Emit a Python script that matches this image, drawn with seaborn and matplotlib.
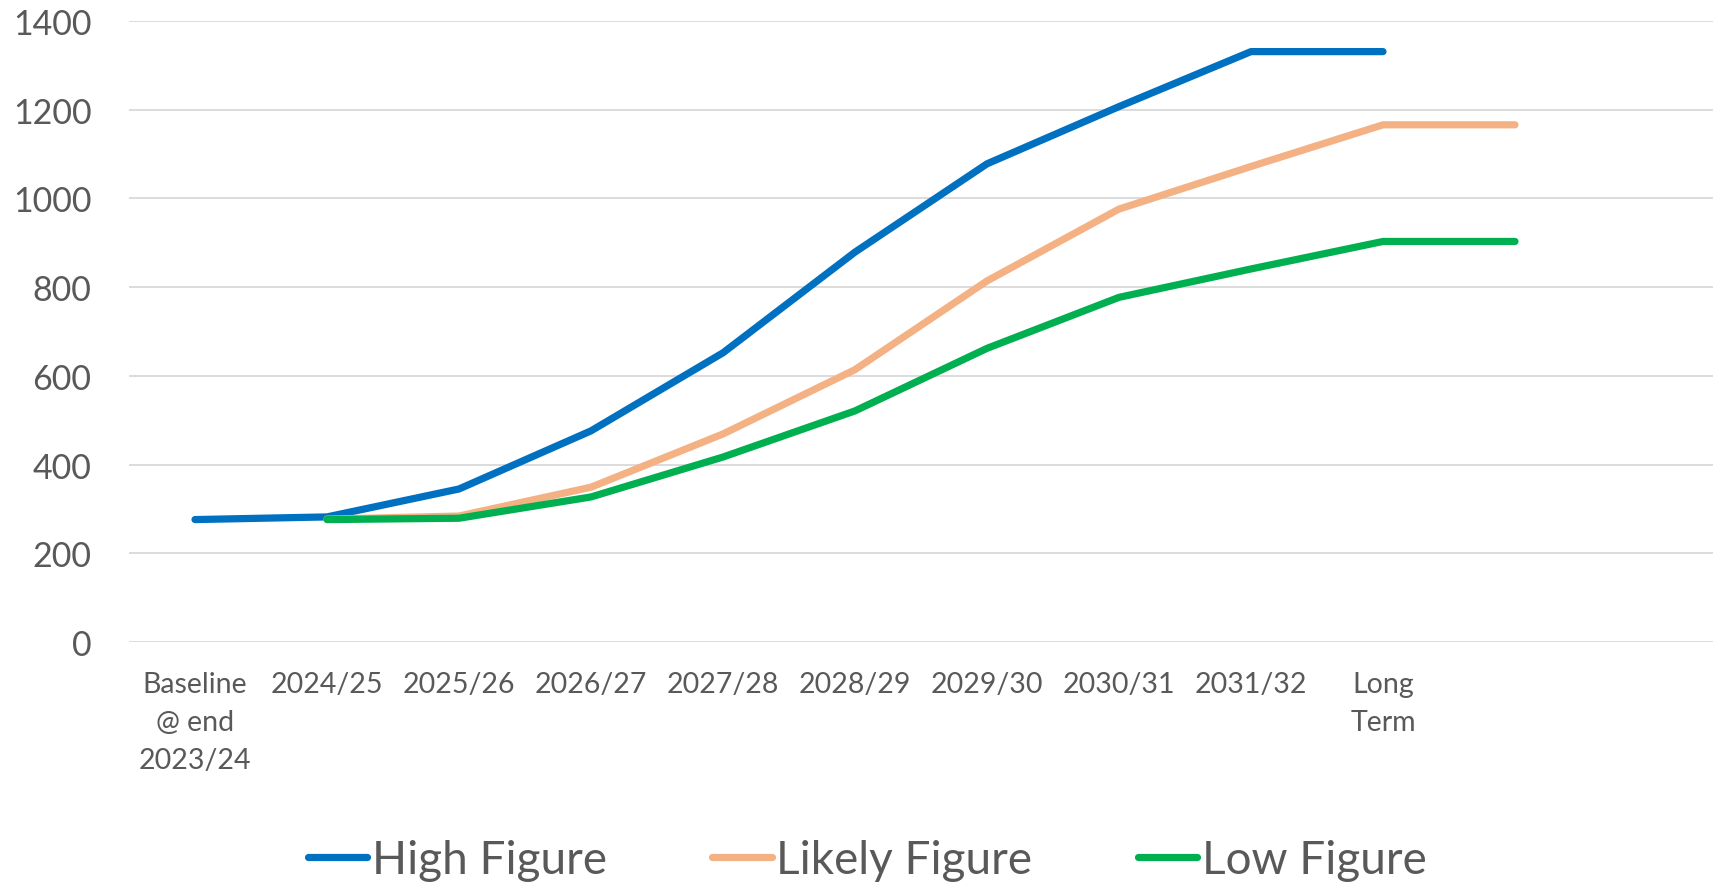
import numpy as np
import pandas as pd
import matplotlib
matplotlib.use("Agg")
import matplotlib.pyplot as plt
import seaborn as sns

categories = ["Baseline\n@ end\n2023/24", "2024/25", "2025/26", "2026/27", "2027/28",
              "2028/29", "2029/30", "2030/31", "2031/32", "Long\nTerm", "", ""]
high = [276, 282, 345, 476, 652, 879, 1078, 1207, 1331, 1331, np.nan, np.nan]
likely = [np.nan, 277, 284, 349, 469, 614, 814, 976, 1072, 1166, 1166, np.nan]
low = [np.nan, 276, 279, 327, 417, 521, 662, 777, 841, 903, 903, np.nan]
series_names = ["High Figure", "Likely Figure", "Low Figure"]
colors = ["#0070C0", "#F4B183", "#00B050"]
yticks = [0, 200, 400, 600, 800, 1000, 1200, 1400]

rows = []
for name, vals in zip(series_names, [high, likely, low]):
    for i, v in enumerate(vals):
        if not np.isnan(v):
            rows.append({"x": i, "value": v, "series": name})
df = pd.DataFrame(rows)

sns.set_theme(style="white")
plt.rcParams['font.family'] = ['Lato', 'DejaVu Sans']
text_color = "#595959"

fig = plt.figure(figsize=(17.17, 8.87), dpi=100)
ax = fig.add_axes([129/1717, 1 - 643/887, (1713 - 129)/1717, (643 - 22)/887])

sns.lineplot(data=df, x="x", y="value", hue="series", hue_order=series_names,
             palette=colors, linewidth=5.2, ax=ax, legend=True,
             solid_capstyle="round", estimator=None, sort=False)

ax.set_xlim(-0.5, len(categories) - 0.5)
ax.set_ylim(0, 1400)
ax.set_yticks(yticks)
ax.set_yticklabels([str(t) for t in yticks], fontsize=24.5, color=text_color)
ax.set_xticks(range(len(categories)))
ax.set_xticklabels(categories, fontsize=20.5, color=text_color, linespacing=1.56)
ax.tick_params(axis="both", length=0)
ax.tick_params(axis="y", pad=27)
ax.tick_params(axis="x", pad=21)
ax.set_xlabel("")
ax.set_ylabel("")
for s in ax.spines.values():
    s.set_visible(False)
ax.yaxis.grid(True, color="#D9D9D9", linewidth=1.3)
ax.xaxis.grid(False)
ax.set_axisbelow(True)

handles, labels = ax.get_legend_handles_labels()
ax.get_legend().remove()
leg = fig.legend(handles, labels, loc="center", bbox_to_anchor=(0.505, 1 - 861/887),
                 ncol=3, frameon=False, fontsize=33, handlelength=1.3,
                 handletextpad=0.1, columnspacing=2.3)
for t in leg.get_texts():
    t.set_color(text_color)
for h in leg.get_lines():
    h.set_linewidth(5.2)
    h.set_solid_capstyle("round")

fig.savefig("out.png", dpi=100)
